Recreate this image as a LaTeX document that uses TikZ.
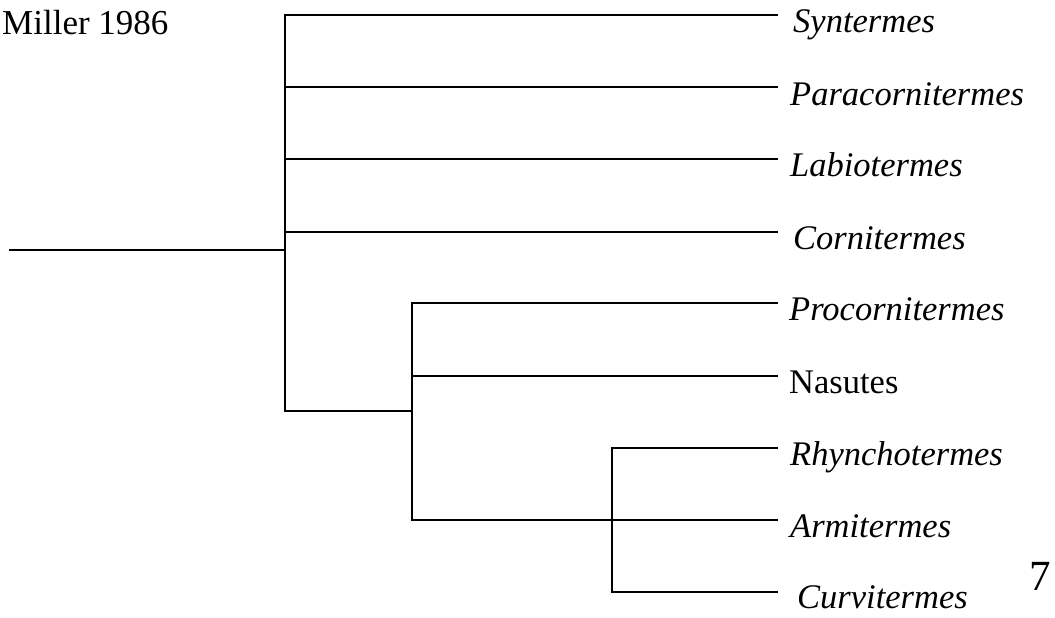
\documentclass[tikz,border=0pt]{standalone}
\usepackage{fontspec}
\setmainfont{Liberation Serif}
\begin{document}
\begin{tikzpicture}[x=1pt,y=-1pt,
  branch/.style={line width=2.8pt, line cap=rect},
  taxon/.style={anchor=base west, inner sep=0pt, font=\fontsize{34.5}{38}\selectfont\itshape},
  plain/.style={anchor=base west, inner sep=0pt, font=\fontsize{34.5}{38}\selectfont}]
\useasboundingbox (0,0) rectangle (1055,618);
% internal nodes
\coordinate (root) at (10,250);
\coordinate (n1) at (285,250);
\coordinate (n1top) at (285,15);
\coordinate (n1bot) at (285,411);
\coordinate (n2) at (412,411);
\coordinate (n2top) at (412,303);
\coordinate (n2bot) at (412,520);
\coordinate (n3) at (612,520);
\coordinate (n3top) at (612,448);
\coordinate (n3bot) at (612,592);
% leaf ends
\coordinate (l1) at (777,15);
\coordinate (l2) at (777,87);
\coordinate (l3) at (777,159);
\coordinate (l4) at (777,232);
\coordinate (l5) at (777,303);
\coordinate (l6) at (777,376);
\coordinate (l7) at (777,448);
\coordinate (l8) at (777,520);
\coordinate (l9) at (777,592);
% branches
\draw[branch] (root) -- (n1);
\draw[branch] (n1top) -- (n1bot);
\draw[branch] (n1top) -- (l1);
\draw[branch] (l2 -| n1) -- (l2);
\draw[branch] (l3 -| n1) -- (l3);
\draw[branch] (l4 -| n1) -- (l4);
\draw[branch] (n1bot) -- (n2);
\draw[branch] (n2top) -- (n2bot);
\draw[branch] (n2top) -- (l5);
\draw[branch] (l6 -| n2) -- (l6);
\draw[branch] (n2bot) -- (n3);
\draw[branch] (n3top) -- (n3bot);
\draw[branch] (n3top) -- (l7);
\draw[branch] (n3) -- (l8);
\draw[branch] (n3bot) -- (l9);
% labels
\node[plain, font=\fontsize{35}{38}\selectfont] (title) at (2,35) {Miller 1986};
\node[taxon] (t1) at (793,33) {Syntermes};
\node[taxon] (t2) at (790,105) {Paracornitermes};
\node[taxon] (t3) at (790,176) {Labiotermes};
\node[taxon] (t4) at (793,249) {Cornitermes};
\node[taxon] (t5) at (789,320) {Procornitermes};
\node[plain] (t6) at (789,393) {Nasutes};
\node[taxon] (t7) at (790,465) {Rhynchotermes};
\node[taxon] (t8) at (790,537) {Armitermes};
\node[taxon] (t9) at (797,608) {Curvitermes};
\node[anchor=base, inner sep=0pt, font=\fontsize{43}{46}\selectfont] (pg) at (1040,590) {7};
\end{tikzpicture}
\end{document}
